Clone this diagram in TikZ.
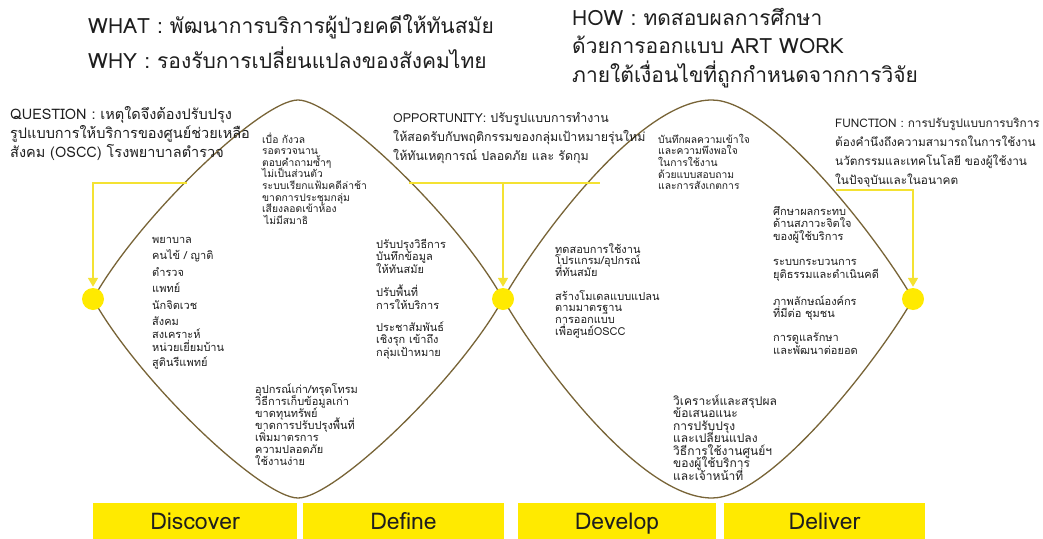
\documentclass[tikz,border=0pt]{standalone}
\usepackage{fontspec}
\newfontfamily\thaifont[Script=Thai]{Loma}
\usetikzlibrary{arrows.meta}
\definecolor{stageyellow}{RGB}{255,234,0}
\definecolor{linkyellow}{RGB}{244,226,50}
\definecolor{curvegold}{RGB}{120,100,55}
\definecolor{ink}{RGB}{30,30,30}

\begin{document}
% text nodes are placed by the baseline of their last line
\begin{tikzpicture}[x=1pt,y=-1pt,
  txt/.style={anchor=base west, align=left, inner sep=0pt, text=ink,
    execute at begin node={\lineskiplimit=-100pt}},
  ttl/.style={txt, font=\thaifont\fontsize{21}{28.5}\selectfont},
  para/.style={txt, font=\thaifont\fontsize{#1}{19}\selectfont},
  para/.default=14.5,
  lst/.style 2 args={txt, font=\thaifont\fontsize{#1}{#2}\selectfont},
  curve/.style={draw=curvegold, line width=1.3pt},
  link/.style={draw=linkyellow, line width=1.6pt},
  linkarrow/.style={link, -{Triangle[width=10pt,length=9pt]}, shorten >=1pt},
  dot/.style={circle, fill=stageyellow, minimum size=22pt, inner sep=0pt},
  stagebox/.style={fill=stageyellow, minimum height=42pt, inner sep=0pt,
    text height=16pt, text depth=5pt,
    text=ink, font=\thaifont\fontsize{23}{26}\selectfont}
]
\useasboundingbox (0,0) rectangle (1043,538);
\clip (0,0) rectangle (1043,538);
\fill[white] (0,0) rectangle (1043,538);

% key points of the double diamond
\coordinate (L)  at (93,299);
\coordinate (M)  at (503,299);
\coordinate (R)  at (913,299);
\coordinate (T1) at (298,100);
\coordinate (B1) at (298,498);
\coordinate (T2) at (712,100);
\coordinate (B2) at (712,498);

% first diamond
\draw[curve] (L) .. controls (140,215) and (262,100) .. (T1)
  .. controls (334,100) and (456,215) .. (M)
  .. controls (456,383) and (334,498) .. (B1)
  .. controls (262,498) and (140,383) .. (L);
% second diamond
\draw[curve] (M) .. controls (540,235) and (640,100) .. (T2)
  .. controls (770,100) and (876,235) .. (R)
  .. controls (876,363) and (770,498) .. (B2)
  .. controls (640,498) and (540,363) .. (M);

% stage dots
\node[dot] (Ldot) at (L) {};
\node[dot] (Mdot) at (M) {};
\node[dot] (Rdot) at (R) {};

% yellow links from the questions down to the dots
\coordinate (qend) at (187,183);
\coordinate (qcorner) at (93,183);
\draw[linkarrow] (qend) -- (qcorner) -- (Ldot.north);

\coordinate (oleft) at (409,183);
\coordinate (oright) at (600,183);
\coordinate (omid) at (503,183);
\draw[link] (oleft) -- (oright);
\draw[linkarrow] (omid) -- (Mdot.north);

\coordinate (fend) at (836,190);
\coordinate (fcorner) at (913,190);
\draw[linkarrow] (fend) -- (fcorner) -- (Rdot.north);

% headings
\node[ttl] (what) at (88,33) {WHAT : พัฒนาการบริการผู้ป่วยคดีให้ทันสมัย};
\node[ttl] (why) at (88,68) {WHY : รองรับการเปลี่ยนแปลงของสังคมไทย};
\node[ttl] (how) at (572,82) {HOW : ทดสอบผลการศึกษา\\ด้วยการออกแบบ ART WORK\\ภายใต้เงื่อนไขที่ถูกกำหนดจากการวิจัย};

% framing questions
\node[para] (question) at (10,157) {QUESTION : เหตุใดจึงต้องปรับปรุง\\รูปแบบการให้บริการของศูนย์ช่วยเหลือ\\สังคม (OSCC) โรงพยาบาลตำรวจ};
\node[para=12.4] (opportunity) at (393,160) {OPPORTUNITY: ปรับรูปแบบการทำงาน\\ให้สอดรับกับพฤติกรรมของกลุ่มเป้าหมายรุ่นใหม่\\ให้ทันเหตุการณ์ ปลอดภัย และ รัดกุม};
\node[para=11.8] (function) at (835,184) {FUNCTION : การปรับรูปแบบการบริการ\\ต้องคำนึงถึงความสามารถในการใช้งาน\\นวัตกรรมและเทคโนโลยี ของผู้ใช้งาน\\ในปัจจุบันและในอนาคต};

% discover
\node[lst={10.3}{11.6}] (pains) at (262,224.2) {เบื่อ กังวล\\รอตรวจนาน\\ตอบคำถามซ้ำๆ\\ไม่เป็นส่วนตัว\\ระบบเรียกแฟ้มคดีล่าช้า\\ขาดการประชุมกลุ่ม\\เสียงลอดเข้าห้อง\\\hspace*{2pt}ไม่มีสมาธิ};
\node[lst={11}{16.5}] (people) at (152,366.5) {พยาบาล\\คนไข้ / ญาติ\\ตำรวจ\\แพทย์\\นักจิตเวช\\สังคม\\[-3.5pt]สงเคราะห์\\[-3.5pt]หน่วยเยี่ยมบ้าน\\[-1.5pt]สูตินรีแพทย์};
\node[lst={11}{12}] (limits) at (255,465) {อุปกรณ์เก่า/ทรุดโทรม\\วิธีการเก็บข้อมูลเก่า\\ขาดทุนทรัพย์\\ขาดการปรับปรุงพื้นที่\\เพิ่มมาตรการ\\ความปลอดภัย\\ใช้งานง่าย};

% define
\node[lst={11}{12.5}] (ideas) at (376,356) {ปรับปรุงวิธีการ\\บันทึกข้อมูล\\ให้ทันสมัย\\[11pt]ปรับพื้นที่\\การให้บริการ\\[9.5pt]ประชาสัมพันธ์\\เชิงรุก เข้าถึง\\กลุ่มเป้าหมาย};

% develop
\node[lst={10.3}{11.7}] (record) at (658,189.8) {บันทึกผลความเข้าใจ\\และความพึงพอใจ\\ในการใช้งาน\\ด้วยแบบสอบถาม\\และการสังเกตการ};
\node[lst={11}{11.7}] (build) at (555,335.2) {ทดสอบการใช้งาน\\โปรแกรม/อุปกรณ์\\ที่ทันสมัย\\[12pt]สร้างโมเดลแบบแปลน\\ตามมาตรฐาน\\การออกแบบ\\เพื่อศูนย์OSCC};
\node[lst={12}{12.5}] (review) at (673,480) {วิเคราะห์และสรุปผล\\ข้อเสนอแนะ\\การปรับปรุง\\และเปลี่ยนแปลง\\วิธีการใช้งานศูนย์ฯ\\ของผู้ใช้บริการ\\และเจ้าหน้าที่};

% deliver
\node[lst={11}{12.8}] (impact) at (773,354.4) {ศึกษาผลกระทบ\\ด้านสภาวะจิตใจ\\ของผู้ใช้บริการ\\[12pt]ระบบกระบวนการ\\ยุติธรรมและดำเนินคดี\\[14pt]ภาพลักษณ์องค์กร\\ที่มีต่อ ชุมชน\\[11pt]การดูแลรักษา\\และพัฒนาต่อยอด};

% stage labels
\node[stagebox, minimum width=204pt] (discover) at (195,524) {Discover};
\node[stagebox, minimum width=201pt] (define) at (403.5,524) {Define};
\node[stagebox, minimum width=198pt] (develop) at (617,524) {Develop};
\node[stagebox, minimum width=201pt] (deliver) at (824.5,524) {Deliver};
\end{tikzpicture}
\end{document}
